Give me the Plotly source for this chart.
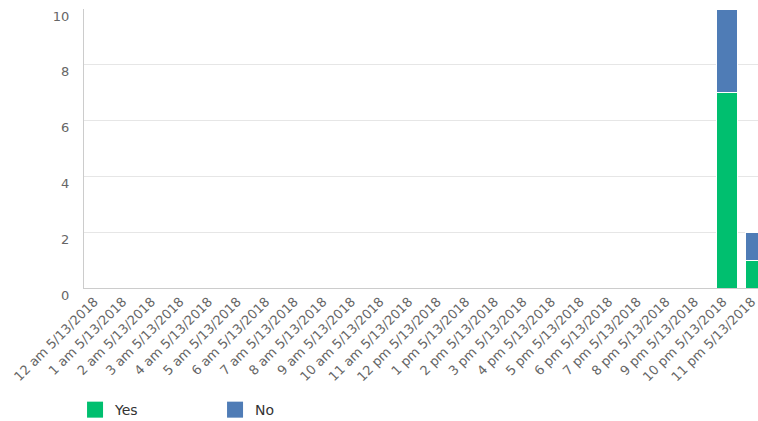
import plotly.graph_objects as go

# Hourly categories for 5/13/2018
hours = ["12 am"] + [f"{h} am" for h in range(1, 12)] + ["12 pm"] + [f"{h} pm" for h in range(1, 12)]
categories = [f"{h} 5/13/2018" for h in hours]

yes_counts = [0] * 22 + [7, 1]
no_counts = [0] * 22 + [3, 1]

y_ticks = [0, 2, 4, 6, 8, 10]

GREEN = "#00bf6f"
BLUE = "#4f7cb6"
FONT = "DejaVu Sans"

xs = list(range(len(categories)))

fig = go.Figure()
for name, vals, color in [("Yes", yes_counts, GREEN), ("No", no_counts, BLUE)]:
    fig.add_trace(go.Bar(
        x=xs, y=vals, name=name, legendgroup=name, showlegend=False,
        marker=dict(color=color, line=dict(color="#ffffff", width=1)),
    ))
    # legend entry with a larger square swatch
    fig.add_trace(go.Scatter(
        x=[None], y=[None], mode="markers", name=name, legendgroup=name,
        marker=dict(symbol="square", size=16, color=color),
    ))

fig.update_layout(
    width=758, height=421,
    barmode="stack",
    bargap=0.28,
    plot_bgcolor="#ffffff",
    paper_bgcolor="#ffffff",
    margin=dict(l=84, r=0, t=9, b=133),
    font=dict(family=FONT, size=12, color="#666666"),
    showlegend=True,
    legend=dict(
        orientation="h", traceorder="normal",
        xref="container", yref="container",
        x=0.099, xanchor="left", y=0.026, yanchor="middle",
        font=dict(family=FONT, size=14, color="#333333"),
        entrywidth=95, entrywidthmode="pixels",
    ),
    xaxis=dict(
        tickmode="array",
        tickvals=xs,
        ticktext=categories,
        tickangle=-45,
        range=[-0.5, 23.08],
        automargin=False,
        showgrid=False,
        showline=True, linecolor="#cccccc", linewidth=1,
        ticks="",
        ticklabelshift=-4,
        ticklabeloverflow="allow",
        tickfont=dict(family=FONT, size=13, color="#666666"),
    ),
    yaxis=dict(
        range=[0, 10],
        tickvals=y_ticks,
        automargin=False,
        showgrid=True, gridcolor="#e6e6e6", gridwidth=1,
        showline=True, linecolor="#cccccc", linewidth=1,
        zeroline=False,
        ticks="",
        ticklabelstandoff=11,
        ticklabelshift=7,
        ticklabeloverflow="allow",
        tickfont=dict(family=FONT, size=13, color="#666666"),
    ),
)

fig.write_html("out.html")
